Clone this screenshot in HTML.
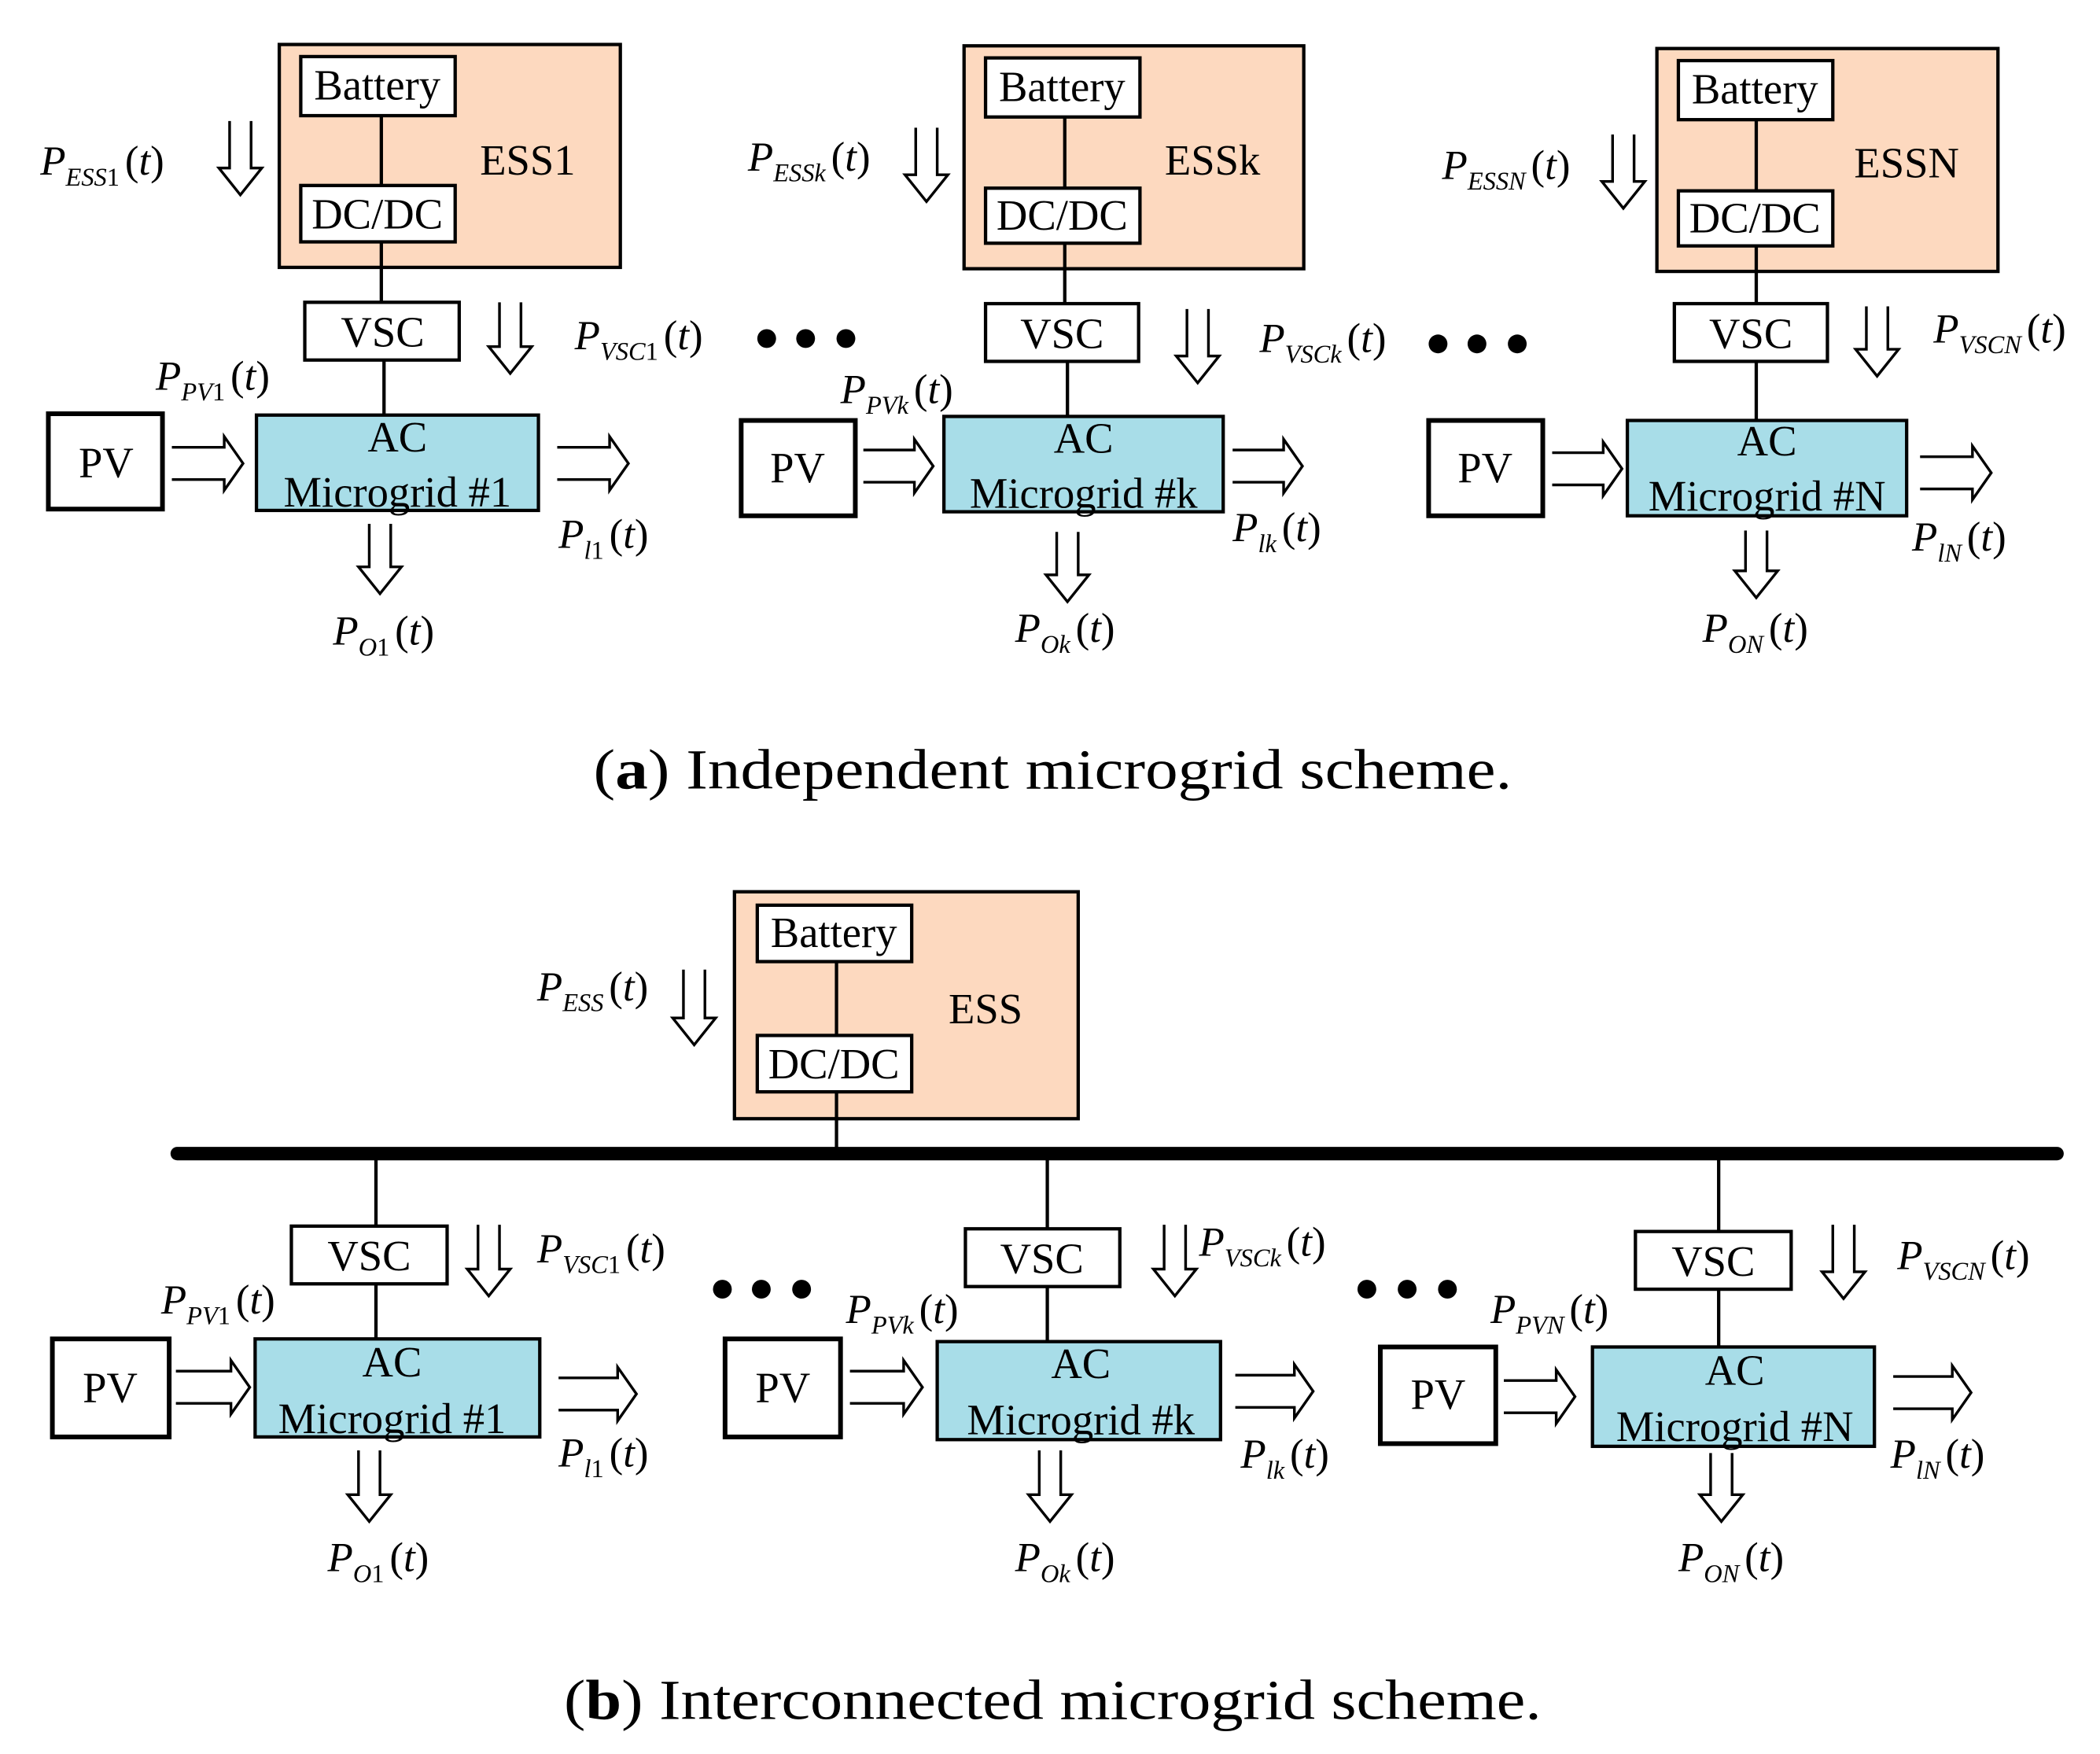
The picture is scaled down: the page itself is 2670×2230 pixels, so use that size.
<!DOCTYPE html>
<html><head><meta charset="utf-8"><style>
html,body{margin:0;padding:0;background:#fff}
svg{display:block}
text{font-family:"Liberation Serif",serif;fill:#000}
.b{font-size:32px;text-anchor:middle}
.L{font-size:31px;font-style:italic}
.s{font-size:19px;font-style:italic}
.n{font-style:normal}
.cap{font-size:42px}
.box{fill:#fff;stroke:#000;stroke-width:2.5}
.pv{fill:#fff;stroke:#000;stroke-width:3.5}
.ess{fill:#fdd9bf;stroke:#000;stroke-width:2.5}
.ac{fill:#a8dde8;stroke:#000;stroke-width:2.5}
.ln{stroke:#000;stroke-width:2.5;fill:none}
.ar{stroke:#000;stroke-width:2;fill:#fff}
</style></head><body>
<svg width="2670" height="2230" viewBox="0 0 1564 1306" xmlns="http://www.w3.org/2000/svg">

<!-- ===== Panel (a) unit 1 ===== -->
<rect class="ess" x="208" y="33" width="254" height="166"/>
<rect class="box" x="224" y="42" width="115" height="44"/>
<text class="b" x="281" y="74">Battery</text>
<rect class="box" x="224" y="138" width="115" height="42"/>
<text class="b" x="281" y="170">DC/DC</text>
<line class="ln" x1="284" y1="86" x2="284" y2="138"/>
<line class="ln" x1="284" y1="180" x2="284" y2="225"/>
<text class="b" x="393" y="130">ESS1</text>
<rect class="box" x="227" y="225" width="115" height="43"/>
<text class="b" x="285" y="258">VSC</text>
<line class="ln" x1="286" y1="268" x2="286" y2="309"/>
<rect class="ac" x="191" y="309" width="210" height="71"/>
<text class="b" x="296" y="336">AC</text>
<text class="b" x="296" y="377">Microgrid #1</text>
<rect class="pv" x="36" y="308" width="85" height="71"/>
<text class="b" x="79" y="355">PV</text>
<path class="ar" d="M128,333 H167 V325 L181,345 L167,365 V357 H128"/>
<path class="ar" d="M415,333 H454 V325 L468,345 L454,365 V357 H415"/>
<path class="ar" d="M171,90 V125 H163 L179,145 L195,125 H187 V90"/>
<path class="ar" d="M372,225 V258 H364 L380,278 L396,258 H388 V225"/>
<path class="ar" d="M275,390 V422 H267 L283,442 L299,422 H291 V390"/>
<text class="L" x="30" y="130">P<tspan class="s" dy="8">ESS</tspan><tspan class="s n">1</tspan><tspan class="n" dy="-8" dx="4">(</tspan>t<tspan class="n">)</tspan></text>
<text class="L" x="116" y="290">P<tspan class="s" dy="8">PV</tspan><tspan class="s n">1</tspan><tspan class="n" dy="-8" dx="4">(</tspan>t<tspan class="n">)</tspan></text>
<text class="L" x="428" y="260">P<tspan class="s" dy="8">VSC</tspan><tspan class="s n">1</tspan><tspan class="n" dy="-8" dx="4">(</tspan>t<tspan class="n">)</tspan></text>
<text class="L" x="416" y="408">P<tspan class="s" dy="8">l</tspan><tspan class="s n">1</tspan><tspan class="n" dy="-8" dx="4">(</tspan>t<tspan class="n">)</tspan></text>
<text class="L" x="248" y="480">P<tspan class="s" dy="8">O</tspan><tspan class="s n">1</tspan><tspan class="n" dy="-8" dx="4">(</tspan>t<tspan class="n">)</tspan></text>
<circle cx="571" cy="252" r="7"/><circle cx="600" cy="252" r="7"/><circle cx="630" cy="252" r="7"/>

<!-- ===== Panel (a) unit k ===== -->
<rect class="ess" x="718" y="34" width="253" height="166"/>
<rect class="box" x="734" y="43" width="115" height="44"/>
<text class="b" x="791" y="75">Battery</text>
<rect class="box" x="734" y="140" width="115" height="41"/>
<text class="b" x="791" y="171">DC/DC</text>
<line class="ln" x1="793" y1="87" x2="793" y2="140"/>
<line class="ln" x1="793" y1="181" x2="793" y2="226"/>
<text class="b" x="903" y="130">ESSk</text>
<rect class="box" x="734" y="226" width="114" height="43"/>
<text class="b" x="791" y="259">VSC</text>
<line class="ln" x1="795" y1="269" x2="795" y2="310"/>
<rect class="ac" x="703" y="310" width="208" height="71"/>
<text class="b" x="807" y="337">AC</text>
<text class="b" x="807" y="378">Microgrid #k</text>
<rect class="pv" x="552" y="313" width="85" height="71"/>
<text class="b" x="594" y="359">PV</text>
<path class="ar" d="M643,335 H681 V327 L695,347 L681,367 V359 H643"/>
<path class="ar" d="M918,335 H956 V327 L970,347 L956,367 V359 H918"/>
<path class="ar" d="M682,95 V130 H674 L690,150 L706,130 H698 V95"/>
<path class="ar" d="M884,230 V265 H876 L892,285 L908,265 H900 V230"/>
<path class="ar" d="M787,396 V428 H779 L795,448 L811,428 H803 V396"/>
<text class="L" x="557" y="127">P<tspan class="s" dy="8">ESSk</tspan><tspan class="n" dy="-8" dx="4">(</tspan>t<tspan class="n">)</tspan></text>
<text class="L" x="626" y="300">P<tspan class="s" dy="8">PVk</tspan><tspan class="n" dy="-8" dx="4">(</tspan>t<tspan class="n">)</tspan></text>
<text class="L" x="938" y="262">P<tspan class="s" dy="8">VSCk</tspan><tspan class="n" dy="-8" dx="4">(</tspan>t<tspan class="n">)</tspan></text>
<text class="L" x="918" y="403">P<tspan class="s" dy="8">lk</tspan><tspan class="n" dy="-8" dx="4">(</tspan>t<tspan class="n">)</tspan></text>
<text class="L" x="756" y="478">P<tspan class="s" dy="8">Ok</tspan><tspan class="n" dy="-8" dx="4">(</tspan>t<tspan class="n">)</tspan></text>
<circle cx="1071" cy="256" r="7"/><circle cx="1100" cy="256" r="7"/><circle cx="1130" cy="256" r="7"/>

<!-- ===== Panel (a) unit N ===== -->
<rect class="ess" x="1234" y="36" width="254" height="166"/>
<rect class="box" x="1250" y="45" width="115" height="44"/>
<text class="b" x="1307" y="77">Battery</text>
<rect class="box" x="1250" y="142" width="115" height="41"/>
<text class="b" x="1307" y="173">DC/DC</text>
<line class="ln" x1="1308" y1="89" x2="1308" y2="142"/>
<line class="ln" x1="1308" y1="183" x2="1308" y2="226"/>
<text class="b" x="1420" y="132">ESSN</text>
<rect class="box" x="1247" y="226" width="114" height="43"/>
<text class="b" x="1304" y="259">VSC</text>
<line class="ln" x1="1308" y1="269" x2="1308" y2="313"/>
<rect class="ac" x="1212" y="313" width="208" height="71"/>
<text class="b" x="1316" y="339">AC</text>
<text class="b" x="1316" y="380">Microgrid #N</text>
<rect class="pv" x="1064" y="313" width="85" height="71"/>
<text class="b" x="1106" y="359">PV</text>
<path class="ar" d="M1156,337 H1194 V329 L1208,349 L1194,369 V361 H1156"/>
<path class="ar" d="M1430,340 H1469 V332 L1483,352 L1469,372 V364 H1430"/>
<path class="ar" d="M1201,100 V135 H1193 L1209,155 L1225,135 H1217 V100"/>
<path class="ar" d="M1390,228 V260 H1382 L1398,280 L1414,260 H1406 V228"/>
<path class="ar" d="M1300,395 V425 H1292 L1308,445 L1324,425 H1316 V395"/>
<text class="L" x="1074" y="133">P<tspan class="s" dy="8">ESSN</tspan><tspan class="n" dy="-8" dx="4">(</tspan>t<tspan class="n">)</tspan></text>
<text class="L" x="1440" y="255">P<tspan class="s" dy="8">VSCN</tspan><tspan class="n" dy="-8" dx="4">(</tspan>t<tspan class="n">)</tspan></text>
<text class="L" x="1424" y="410">P<tspan class="s" dy="8">lN</tspan><tspan class="n" dy="-8" dx="4">(</tspan>t<tspan class="n">)</tspan></text>
<text class="L" x="1268" y="478">P<tspan class="s" dy="8">ON</tspan><tspan class="n" dy="-8" dx="4">(</tspan>t<tspan class="n">)</tspan></text>

<text class="cap" x="442" y="587" textLength="684" lengthAdjust="spacingAndGlyphs">(<tspan font-weight="bold">a</tspan>) Independent microgrid scheme.</text>

<!-- ===== Panel (b) ===== -->
<rect class="ess" x="547" y="664" width="256" height="169"/>
<rect class="box" x="564" y="674" width="115" height="42"/>
<text class="b" x="621" y="705">Battery</text>
<rect class="box" x="564" y="771" width="115" height="42"/>
<text class="b" x="621" y="803">DC/DC</text>
<line class="ln" x1="623" y1="716" x2="623" y2="771"/>
<line class="ln" x1="623" y1="813" x2="623" y2="858"/>
<text class="b" x="734" y="762">ESS</text>
<path class="ar" d="M509,722 V758 H501 L517,778 L533,758 H525 V722"/>
<text class="L" x="400" y="745">P<tspan class="s" dy="8">ESS</tspan><tspan class="n" dy="-8" dx="4">(</tspan>t<tspan class="n">)</tspan></text>
<line x1="132" y1="859" x2="1532" y2="859" stroke="#000" stroke-width="10" stroke-linecap="round"/>

<!-- b unit 1 -->
<line class="ln" x1="280" y1="859" x2="280" y2="913"/>
<rect class="box" x="217" y="913" width="116" height="43"/>
<text class="b" x="275" y="946">VSC</text>
<line class="ln" x1="280" y1="956" x2="280" y2="997"/>
<rect class="ac" x="190" y="997" width="212" height="73"/>
<text class="b" x="292" y="1025">AC</text>
<text class="b" x="292" y="1067">Microgrid #1</text>
<rect class="pv" x="39" y="997" width="87" height="73"/>
<text class="b" x="82" y="1044">PV</text>
<path class="ar" d="M131,1021 H172 V1013 L186,1033 L172,1053 V1045 H131"/>
<path class="ar" d="M416,1026 H460 V1018 L474,1038 L460,1058 V1050 H416"/>
<path class="ar" d="M267,1080 V1113 H259 L275,1133 L291,1113 H283 V1080"/>
<path class="ar" d="M356,912 V945 H348 L364,965 L380,945 H372 V912"/>
<text class="L" x="400" y="940">P<tspan class="s" dy="8">VSC</tspan><tspan class="s n">1</tspan><tspan class="n" dy="-8" dx="4">(</tspan>t<tspan class="n">)</tspan></text>
<text class="L" x="120" y="978">P<tspan class="s" dy="8">PV</tspan><tspan class="s n">1</tspan><tspan class="n" dy="-8" dx="4">(</tspan>t<tspan class="n">)</tspan></text>
<text class="L" x="416" y="1092">P<tspan class="s" dy="8">l</tspan><tspan class="s n">1</tspan><tspan class="n" dy="-8" dx="4">(</tspan>t<tspan class="n">)</tspan></text>
<text class="L" x="244" y="1170">P<tspan class="s" dy="8">O</tspan><tspan class="s n">1</tspan><tspan class="n" dy="-8" dx="4">(</tspan>t<tspan class="n">)</tspan></text>
<circle cx="538" cy="960" r="7"/><circle cx="567" cy="960" r="7"/><circle cx="597" cy="960" r="7"/>

<!-- b unit k -->
<line class="ln" x1="780" y1="859" x2="780" y2="915"/>
<rect class="box" x="719" y="915" width="115" height="43"/>
<text class="b" x="776" y="948">VSC</text>
<line class="ln" x1="780" y1="958" x2="780" y2="999"/>
<rect class="ac" x="698" y="999" width="211" height="73"/>
<text class="b" x="805" y="1026">AC</text>
<text class="b" x="805" y="1068">Microgrid #k</text>
<rect class="pv" x="540" y="997" width="86" height="73"/>
<text class="b" x="583" y="1044">PV</text>
<path class="ar" d="M633,1021 H673 V1013 L687,1033 L673,1053 V1045 H633"/>
<path class="ar" d="M920,1024 H964 V1016 L978,1036 L964,1056 V1048 H920"/>
<path class="ar" d="M774,1080 V1113 H766 L782,1133 L798,1113 H790 V1080"/>
<path class="ar" d="M867,912 V945 H859 L875,965 L891,945 H883 V912"/>
<text class="L" x="893" y="935">P<tspan class="s" dy="8">VSCk</tspan><tspan class="n" dy="-8" dx="4">(</tspan>t<tspan class="n">)</tspan></text>
<text class="L" x="630" y="985">P<tspan class="s" dy="8">PVk</tspan><tspan class="n" dy="-8" dx="4">(</tspan>t<tspan class="n">)</tspan></text>
<text class="L" x="924" y="1093">P<tspan class="s" dy="8">lk</tspan><tspan class="n" dy="-8" dx="4">(</tspan>t<tspan class="n">)</tspan></text>
<text class="L" x="756" y="1170">P<tspan class="s" dy="8">Ok</tspan><tspan class="n" dy="-8" dx="4">(</tspan>t<tspan class="n">)</tspan></text>
<circle cx="1018" cy="960" r="7"/><circle cx="1048" cy="960" r="7"/><circle cx="1078" cy="960" r="7"/>

<!-- b unit N -->
<line class="ln" x1="1280" y1="859" x2="1280" y2="917"/>
<rect class="box" x="1218" y="917" width="116" height="43"/>
<text class="b" x="1276" y="950">VSC</text>
<line class="ln" x1="1280" y1="960" x2="1280" y2="1003"/>
<rect class="ac" x="1186" y="1003" width="210" height="74"/>
<text class="b" x="1292" y="1031">AC</text>
<text class="b" x="1292" y="1073">Microgrid #N</text>
<rect class="pv" x="1028" y="1003" width="86" height="72"/>
<text class="b" x="1071" y="1049">PV</text>
<path class="ar" d="M1120,1028 H1159 V1020 L1173,1040 L1159,1060 V1052 H1120"/>
<path class="ar" d="M1410,1025 H1454 V1017 L1468,1037 L1454,1057 V1049 H1410"/>
<path class="ar" d="M1274,1082 V1113 H1266 L1282,1133 L1298,1113 H1290 V1082"/>
<path class="ar" d="M1365,912 V947 H1357 L1373,967 L1389,947 H1381 V912"/>
<text class="L" x="1413" y="945">P<tspan class="s" dy="8">VSCN</tspan><tspan class="n" dy="-8" dx="4">(</tspan>t<tspan class="n">)</tspan></text>
<text class="L" x="1110" y="985">P<tspan class="s" dy="8">PVN</tspan><tspan class="n" dy="-8" dx="4">(</tspan>t<tspan class="n">)</tspan></text>
<text class="L" x="1408" y="1093">P<tspan class="s" dy="8">lN</tspan><tspan class="n" dy="-8" dx="4">(</tspan>t<tspan class="n">)</tspan></text>
<text class="L" x="1250" y="1170">P<tspan class="s" dy="8">ON</tspan><tspan class="n" dy="-8" dx="4">(</tspan>t<tspan class="n">)</tspan></text>

<text class="cap" x="420" y="1280" textLength="728" lengthAdjust="spacingAndGlyphs">(<tspan font-weight="bold">b</tspan>) Interconnected microgrid scheme.</text>
</svg>
</body></html>
